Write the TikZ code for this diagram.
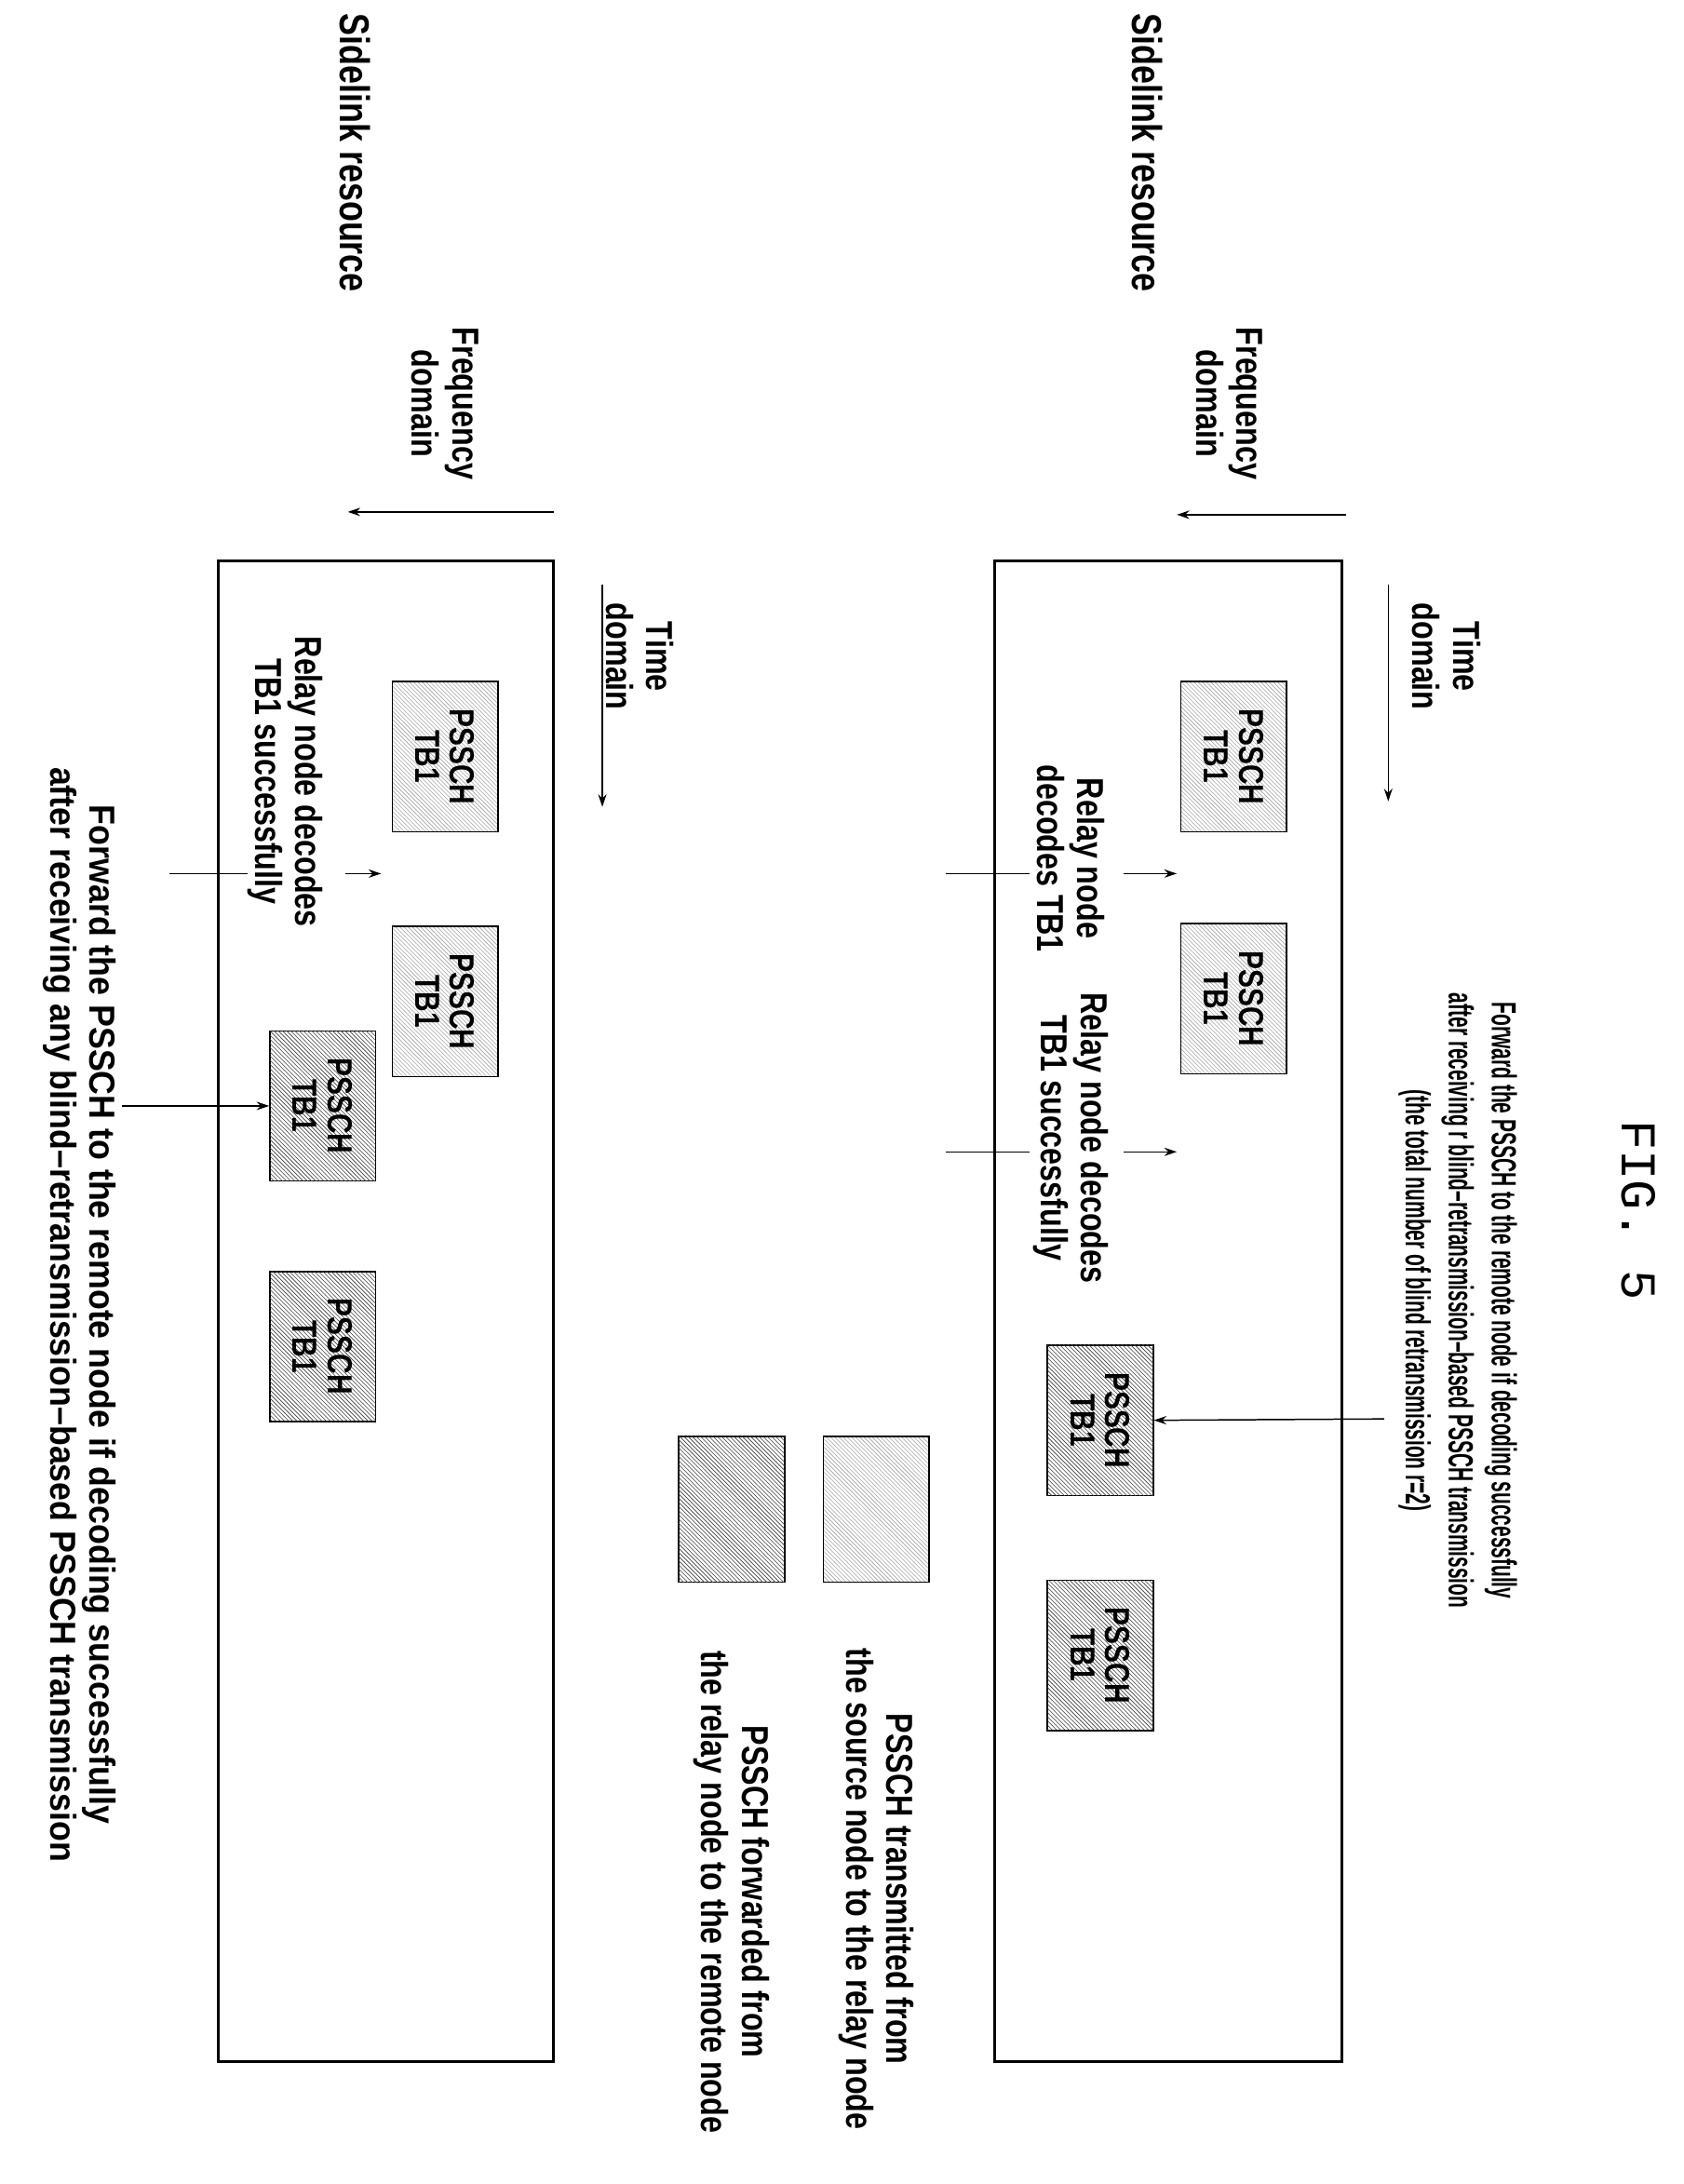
\documentclass[tikz,border=0pt]{standalone}
\usepackage{fontspec}
\setmainfont{Liberation Sans}[FakeStretch=0.8]
\newfontfamily\narrowf{Liberation Sans}[FakeStretch=0.56]
\newfontfamily\widef{Liberation Sans}[FakeStretch=0.92]
\setmonofont{Liberation Mono}
\usetikzlibrary{patterns,arrows.meta}
\begin{document}
\begin{tikzpicture}[x=1pt,y=-1pt,
  lbl/.style={rotate=-90,align=center,font=\bfseries\fontsize{27}{29}\selectfont,inner sep=0},
  nlbl/.style={lbl,font=\narrowf\bfseries\fontsize{25}{31}\selectfont},
  wlbl/.style={lbl,font=\widef\bfseries\fontsize{26}{28}\selectfont},
  light/.style={rotate=-90,draw,line width=1pt,minimum width=108pt,minimum height=76pt,pattern=north west lines,pattern color=gray!70,align=center,font=\bfseries\fontsize{25}{25}\selectfont,inner sep=0},
  dark/.style={light,fill=gray!65,pattern=none,postaction={pattern=north west lines,pattern color=gray!50!black}},
  arr/.style={-{Stealth[length=9pt,width=6pt]},line width=1pt},
  frame/.style={line width=2pt}]
\useasboundingbox (0,0) rectangle (1210,1570);
\node[lbl,font=\ttfamily\fontsize{36}{38}\selectfont] (fig) at (1178,870) {FIG. 5};
% top panel
\draw[frame] (715,403) rectangle (965,1482);
\node[lbl,font=\bfseries\fontsize{30}{32}\selectfont] (sr1) at (825,110) {Sidelink resource};
\coordinate (f1a) at (968,370); \coordinate (f1b) at (846,370);
\draw[arr] (f1a) -- (f1b);
\node[lbl] (fd1) at (884,290) {Frequency\\domain};
\coordinate (t1a) at (998,420); \coordinate (t1b) at (998,576);
\draw[arr] (t1a) -- (t1b);
\node[lbl] (td1) at (1040,472) {Time\\domain};
\node[light] (a1) at (887,544) {PSSCH\\TB1};
\node[light] (a2) at (887,718) {PSSCH\\TB1};
\node[dark] (a3) at (791,1021) {PSSCH\\TB1};
\node[dark] (a4) at (791,1190) {PSSCH\\TB1};
\node[lbl] (r1) at (770,617) {Relay node\\decodes TB1};
\node[lbl] (r2) at (770,818) {Relay node decodes\\TB1 successfully};
\coordinate (p1) at (680,628); \coordinate (p1b) at (740,628);
\coordinate (p1c) at (808,628); \coordinate (p1d) at (846,628);
\draw[line width=1pt] (p1) -- (p1b); \draw[arr] (p1c) -- (p1d);
\coordinate (p2) at (680,828); \coordinate (p2b) at (740,828);
\coordinate (p2c) at (808,828); \coordinate (p2d) at (846,828);
\draw[line width=1pt] (p2) -- (p2b); \draw[arr] (p2c) -- (p2d);
\coordinate (q1) at (995,1020);
\draw[arr] (q1) -- (a3.north);
\node[nlbl] (fw1) at (1048,935) {Forward the PSSCH to the remote node if decoding successfully\\after receiving r blind\textendash retransmission\textendash based PSSCH transmission\\(the total number of blind retransmission r=2)};
% legend
\node[light,minimum width=105pt] (la) at (630,1085) {};
\node[dark,minimum width=105pt] (lb) at (526,1085) {};
\node[lbl] (lta) at (630,1358) {PSSCH transmitted from\\the source node to the relay node};
\node[lbl] (ltb) at (526,1360) {PSSCH forwarded from\\the relay node to the remote node};
% bottom panel
\draw[frame] (157,403) rectangle (398,1482);
\node[lbl,font=\bfseries\fontsize{30}{32}\selectfont] (sr2) at (255,110) {Sidelink resource};
\coordinate (f2a) at (398,368); \coordinate (f2b) at (250,368);
\draw[arr] (f2a) -- (f2b);
\node[lbl] (fd2) at (320,290) {Frequency\\domain};
\coordinate (t2a) at (433,420); \coordinate (t2b) at (433,580);
\draw[arr] (t2a) -- (t2b);
\node[lbl] (td2) at (460,472) {Time\\domain};
\node[light] (b1) at (320,544) {PSSCH\\TB1};
\node[light] (b2) at (320,720) {PSSCH\\TB1};
\node[dark] (b3) at (232,795) {PSSCH\\TB1};
\node[dark] (b4) at (232,968) {PSSCH\\TB1};
\node[lbl] (r3) at (205,562) {Relay node decodes\\TB1 successfully};
\coordinate (s1) at (122,628); \coordinate (s1b) at (178,628);
\coordinate (s1c) at (248,628); \coordinate (s1d) at (274,628);
\draw[line width=1pt] (s1) -- (s1b); \draw[arr] (s1c) -- (s1d);
\coordinate (s2) at (88,795);
\draw[arr] (s2) -- (b3.south);
\node[wlbl] (fw2) at (57,945) {Forward the PSSCH to the remote node if decoding successfully\\after receiving any blind\textendash retransmission\textendash based PSSCH transmission};
\end{tikzpicture}
\end{document}
